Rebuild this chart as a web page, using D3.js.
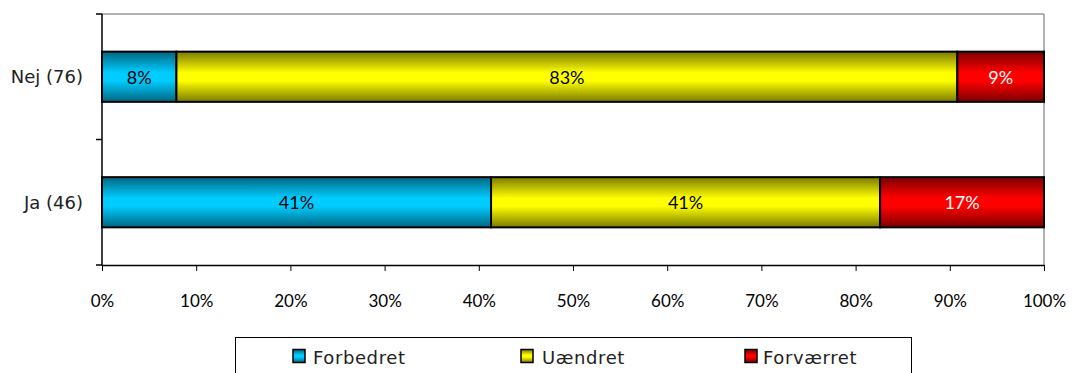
<!DOCTYPE html>
<html><head><meta charset="utf-8">
<script src="https://cdn.jsdelivr.net/npm/d3@7"></script>
<style>body{margin:0;background:#fff}svg{display:block;font-family:"Lato","Open Sans",sans-serif}</style>
</head><body><svg id="c" width="1072" height="373"></svg>
<script>
const categories = ["Nej (76)", "Ja (46)"];
const seriesNames = ["Forbedret", "Uændret", "Forværret"];
const forbedret = [7.9, 41.3];
const uaendret = [82.9, 41.3];
const forvaerret = [9.2, 17.4];
const valueLabels = [["8%", "83%", "9%"], ["41%", "41%", "17%"]];
const xTicks = [0,10,20,30,40,50,60,70,80,90,100];

const colors = [
  {base:"#00ccff", dark:"#006680"},
  {base:"#ffff00", dark:"#7a7a00"},
  {base:"#ff0000", dark:"#7a0000"}
];
const labelColors = ["#000","#000","#fff"];

const svg = d3.select("#c");
const L = 102, R = 1044, T = 14, B = 265;
const x = d3.scaleLinear().domain([0,100]).range([L,R]);
const y = d3.scaleBand().domain(categories).range([T,B]).paddingInner(0.6).paddingOuter(0.3);

const defs = svg.append("defs");
colors.forEach((c,i)=>{
  const g = defs.append("linearGradient").attr("id","g"+i).attr("x1",0).attr("y1",0).attr("x2",0).attr("y2",1);
  g.append("stop").attr("offset","0%").attr("stop-color",c.dark);
  g.append("stop").attr("offset","42%").attr("stop-color",c.base);
  g.append("stop").attr("offset","58%").attr("stop-color",c.base);
  g.append("stop").attr("offset","100%").attr("stop-color",c.dark);
});

// plot border (top & right gray)
svg.append("line").attr("x1",L).attr("x2",R).attr("y1",T).attr("y2",T).attr("stroke","#999").attr("stroke-width",1.5);
svg.append("line").attr("x1",R).attr("x2",R).attr("y1",T).attr("y2",B).attr("stroke","#999").attr("stroke-width",1.5);

const data = categories.map((c,i)=>({cat:c, vals:[forbedret[i],uaendret[i],forvaerret[i]]}));
const stack = d3.stack().keys([0,1,2]).value((d,k)=>d.vals[k]);
const stacked = stack(data);

stacked.forEach((layer,k)=>{
  svg.append("g").selectAll("rect").data(layer).join("rect")
    .attr("x",d=>x(d[0])).attr("width",d=>x(d[1])-x(d[0]))
    .attr("y",d=>y(d.data.cat)).attr("height",y.bandwidth())
    .attr("fill","url(#g"+k+")").attr("stroke","#000").attr("stroke-width",2);
  svg.append("g").selectAll("text").data(layer).join("text")
    .attr("x",d=>(x(d[0])+x(d[1]))/2).attr("y",d=>y(d.data.cat)+y.bandwidth()/2)
    .attr("text-anchor","middle").attr("dominant-baseline","central")
    .attr("font-size",18).attr("fill",labelColors[k])
    .text((d,i)=>valueLabels[i][k]);
});

// axes
const xAxis = d3.axisBottom(x).tickValues(xTicks).tickFormat(d=>d+"%").tickSize(6).tickSizeOuter(0);
const gx = svg.append("g").attr("transform",`translate(0,${B})`).call(xAxis);
gx.select(".domain").attr("stroke","#000").attr("stroke-width",1.5);
gx.selectAll(".tick line").attr("stroke","#000");
gx.selectAll("text").attr("font-size",17).attr("fill","#000").attr("y",36).attr("dy","0.35em").style("font-family","Lato");

const gy = svg.append("g");
gy.append("line").attr("x1",L).attr("x2",L).attr("y1",T).attr("y2",B).attr("stroke","#000").attr("stroke-width",1.5);
[T,(T+B)/2,B].forEach(t=>gy.append("line").attr("x1",L-6).attr("x2",L).attr("y1",t).attr("y2",t).attr("stroke","#000").attr("stroke-width",1.5));
gy.selectAll("text.cat").data(categories).join("text").attr("class","cat")
  .attr("x",L-19).attr("y",d=>y(d)+y.bandwidth()/2).attr("text-anchor","end").attr("dominant-baseline","central")
  .attr("font-size",18).style("font-family","DejaVu Sans").attr("fill","#222").text(d=>d);

// legend
const lg = svg.append("g");
lg.append("rect").attr("x",235.5).attr("y",337.5).attr("width",676).attr("height",60).attr("fill","#fff").attr("stroke","#000");
const sqx = [293, 521, 745];
const txx = [313, 542, 763];
seriesNames.forEach((n,i)=>{
  lg.append("rect").attr("x",sqx[i]).attr("y",349.5).attr("width",12).attr("height",13)
    .attr("fill","url(#g"+i+")").attr("stroke","#000").attr("stroke-width",1.5);
  lg.append("text").attr("x",txx[i]).attr("y",357).attr("dominant-baseline","central").attr("font-size",18)
    .style("font-family","DejaVu Sans").attr("letter-spacing",0.6).attr("fill","#222").text(n);
});
</script></body></html>
